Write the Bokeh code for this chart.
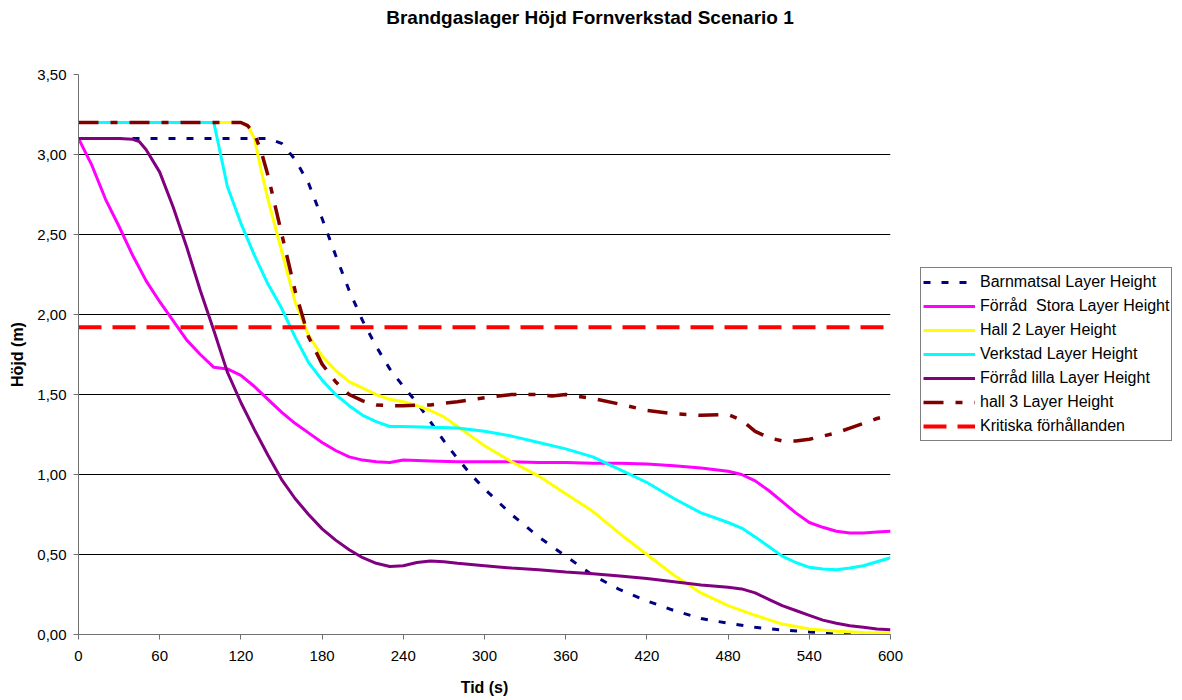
from bokeh.plotting import figure
from bokeh.layouts import row, column
from bokeh.models import Legend, LegendItem, FixedTicker, CustomJSTickFormatter, Range1d, Div
from bokeh.embed import file_html
from bokeh.resources import INLINE

# ---------------- data ----------------
t_barn = [0, 20, 40, 60, 80, 100, 120, 140, 150, 160, 170, 180, 190, 200, 210, 220, 230, 240, 250, 260,
          270, 280, 290, 300, 320, 340, 360, 380, 400, 420, 440, 460, 480, 500, 520, 540, 560, 580, 600]
h_barn = [3.10, 3.10, 3.10, 3.10, 3.10, 3.10, 3.10, 3.10, 3.07, 2.97, 2.82, 2.60, 2.37, 2.15, 1.96, 1.80,
          1.66, 1.55, 1.45, 1.33, 1.21, 1.10, 1.00, 0.91, 0.75, 0.61, 0.49, 0.37, 0.28, 0.21, 0.15, 0.10,
          0.07, 0.045, 0.028, 0.016, 0.008, 0.003, 0.0]

t_stora = [0, 10, 20, 30, 40, 50, 60, 70, 80, 90, 100, 110, 120, 130, 140, 150, 160, 170, 180, 190, 200,
           210, 220, 230, 240, 260, 280, 300, 320, 340, 360, 380, 400, 420, 440, 460, 480, 490, 500, 510,
           520, 530, 540, 550, 560, 570, 580, 590, 600]
h_stora = [3.10, 2.93, 2.72, 2.55, 2.37, 2.21, 2.08, 1.96, 1.84, 1.75, 1.67, 1.66, 1.62, 1.55, 1.47, 1.39,
           1.32, 1.26, 1.20, 1.15, 1.11, 1.09, 1.08, 1.075, 1.09, 1.085, 1.08, 1.08, 1.08, 1.075, 1.075,
           1.07, 1.07, 1.065, 1.055, 1.04, 1.02, 1.00, 0.96, 0.90, 0.83, 0.76, 0.70, 0.67, 0.645, 0.635,
           0.635, 0.64, 0.645]

t_hall2 = [0, 20, 40, 60, 80, 100, 120, 125, 130, 135, 140, 150, 160, 170, 180, 190, 200, 210, 220, 230,
           240, 250, 260, 270, 280, 290, 300, 320, 340, 360, 380, 400, 420, 440, 460, 480, 500, 520, 540,
           560, 580, 600]
h_hall2 = [3.20, 3.20, 3.20, 3.20, 3.20, 3.20, 3.20, 3.18, 3.10, 2.90, 2.72, 2.40, 2.08, 1.87, 1.74, 1.65,
           1.58, 1.54, 1.50, 1.47, 1.455, 1.43, 1.40, 1.36, 1.30, 1.24, 1.18, 1.08, 0.99, 0.88, 0.77, 0.63,
           0.50, 0.37, 0.26, 0.18, 0.12, 0.065, 0.035, 0.02, 0.012, 0.01]

t_verk = [0, 20, 40, 60, 80, 100, 105, 110, 120, 130, 140, 150, 160, 170, 180, 190, 200, 210, 220, 230,
          240, 260, 280, 300, 320, 340, 360, 380, 400, 420, 440, 460, 480, 490, 500, 510, 520, 530, 540,
          550, 560, 570, 580, 590, 600]
h_verk = [3.20, 3.20, 3.20, 3.20, 3.20, 3.20, 3.00, 2.80, 2.57, 2.37, 2.19, 2.04, 1.86, 1.70, 1.59, 1.50,
          1.43, 1.37, 1.33, 1.30, 1.30, 1.295, 1.29, 1.27, 1.24, 1.20, 1.16, 1.11, 1.03, 0.95, 0.85, 0.76,
          0.70, 0.665, 0.61, 0.55, 0.49, 0.45, 0.42, 0.41, 0.405, 0.415, 0.43, 0.455, 0.48]

t_lilla = [0, 10, 20, 30, 40, 45, 50, 60, 70, 80, 90, 100, 110, 120, 130, 140, 150, 160, 170, 180, 190,
           200, 210, 220, 230, 240, 250, 260, 270, 280, 300, 320, 340, 360, 380, 400, 420, 440, 460, 480,
           490, 500, 510, 520, 530, 540, 550, 560, 570, 580, 590, 600]
h_lilla = [3.10, 3.10, 3.10, 3.10, 3.095, 3.08, 3.03, 2.89, 2.67, 2.42, 2.15, 1.90, 1.64, 1.45, 1.28, 1.12,
           0.97, 0.85, 0.75, 0.66, 0.59, 0.53, 0.48, 0.445, 0.425, 0.43, 0.45, 0.46, 0.455, 0.445, 0.43,
           0.415, 0.405, 0.39, 0.38, 0.365, 0.35, 0.33, 0.31, 0.295, 0.285, 0.26, 0.22, 0.18, 0.15, 0.12,
           0.09, 0.07, 0.055, 0.045, 0.035, 0.03]

t_hall3 = [0, 20, 40, 60, 80, 100, 120, 125, 130, 135, 140, 150, 160, 170, 180, 190, 200, 210, 220, 230,
           240, 260, 280, 300, 320, 340, 350, 360, 380, 400, 420, 440, 460, 480, 490, 500, 510, 520, 530,
           540, 550, 560, 570, 580, 590, 600]
h_hall3 = [3.20, 3.20, 3.20, 3.20, 3.20, 3.20, 3.20, 3.18, 3.13, 3.02, 2.87, 2.51, 2.15, 1.86, 1.69, 1.58,
           1.50, 1.46, 1.435, 1.43, 1.43, 1.435, 1.455, 1.48, 1.50, 1.50, 1.49, 1.50, 1.475, 1.44, 1.40,
           1.38, 1.37, 1.375, 1.34, 1.27, 1.23, 1.21, 1.21, 1.22, 1.24, 1.26, 1.29, 1.32, 1.35, 1.37]

t_krit = [0, 600]
h_krit = [1.92, 1.92]

x_ticks = [0, 60, 120, 180, 240, 300, 360, 420, 480, 540, 600]
y_ticks = [0.0, 0.5, 1.0, 1.5, 2.0, 2.5, 3.0, 3.5]

labels = ["Barnmatsal Layer Height", "Förråd  Stora Layer Height", "Hall 2 Layer Height",
          "Verkstad Layer Height", "Förråd lilla Layer Height", "hall 3 Layer Height",
          "Kritiska förhållanden"]

TITLE = "Brandgaslager Höjd Fornverkstad Scenario 1"
FONT = "Liberation Sans"

styles = [
    dict(line_color="#000080", line_width=3, line_dash="7 11"),
    dict(line_color="#FF00FF", line_width=3, line_join="round"),
    dict(line_color="#FFFF00", line_width=3, line_join="round"),
    dict(line_color="#00FFFF", line_width=3, line_join="round"),
    dict(line_color="#800080", line_width=3, line_join="round"),
    dict(line_color="#800000", line_width=3.5, line_dash="20 12 7 12"),
    dict(line_color="#FF0000", line_width=4, line_dash="23 11"),
]
series = [(t_barn, h_barn), (t_stora, h_stora), (t_hall2, h_hall2), (t_verk, h_verk),
          (t_lilla, h_lilla), (t_hall3, h_hall3), (t_krit, h_krit)]

title_div = Div(text=TITLE, width=1180, height=36, margin=0,
                styles={"font-family": FONT, "font-size": "19px", "font-weight": "bold",
                        "text-align": "center", "line-height": "36px", "color": "black",
                        "width": "1180px"})

p = figure(width=910, height=662, output_backend="svg", toolbar_location=None,
           x_range=Range1d(0, 600), y_range=Range1d(0, 3.5),
           min_border_left=78, min_border_right=20, min_border_top=38, min_border_bottom=63)
p.outline_line_color = None
p.background_fill_color = "white"
p.border_fill_color = "white"

# axes
p.xaxis.ticker = FixedTicker(ticks=x_ticks)
p.yaxis.ticker = FixedTicker(ticks=y_ticks)
p.yaxis.formatter = CustomJSTickFormatter(code="return tick.toFixed(2).replace('.', ',');")
for ax in (p.xaxis[0], p.yaxis[0]):
    ax.axis_line_color = "#707070"
    ax.axis_line_width = 1
    ax.major_tick_line_color = "#707070"
    ax.major_tick_out = 5
    ax.major_tick_in = 0
    ax.minor_tick_line_color = None
    ax.major_label_text_font = FONT
    ax.major_label_text_font_size = "15px"
    ax.major_label_text_color = "black"
    ax.axis_label_text_font = FONT
    ax.axis_label_text_font_size = "16px"
    ax.axis_label_text_font_style = "bold"
    ax.axis_label_text_color = "black"
p.xaxis.axis_label = "Tid (s)"
p.yaxis.axis_label = "Höjd (m)"
p.xaxis.major_label_standoff = 11
p.xaxis.axis_label_standoff = 15
p.yaxis.major_label_standoff = 7
p.yaxis.axis_label_standoff = 8

p.xgrid.grid_line_color = None
p.ygrid.grid_line_color = "black"
p.ygrid.grid_line_width = 1

for (tx, hy), st in zip(series, styles):
    p.line(tx, hy, **st)

# legend panel (separate canvas to the right of the plot)
lf = figure(width=270, height=662, output_backend="svg", toolbar_location=None,
            x_range=Range1d(0, 1), y_range=Range1d(0, 1),
            x_axis_location=None, y_axis_location=None,
            min_border_left=0, min_border_right=0, min_border_top=38, min_border_bottom=63)
lf.outline_line_color = None
lf.xgrid.grid_line_color = None
lf.ygrid.grid_line_color = None
lf.border_fill_color = "white"
lf.background_fill_color = "white"
# swatch renderers for the legend only (placed outside the visible range)
dummy = [lf.line([5, 6], [5, 6], **st) for st in styles]

legend = Legend(items=[LegendItem(label=l, renderers=[r]) for l, r in zip(labels, dummy)],
                location=(10, 193), orientation="vertical",
                label_text_font=FONT, label_text_font_size="16px", label_text_color="black",
                glyph_width=52, glyph_height=24, label_height=24, label_standoff=5,
                spacing=0, padding=2, margin=0,
                border_line_color="black", border_line_width=1,
                background_fill_color="white", background_fill_alpha=1.0)
lf.add_layout(legend, "center")

layout = column(title_div, row(p, lf))
open("out.html", "w").write(file_html(layout, INLINE))
